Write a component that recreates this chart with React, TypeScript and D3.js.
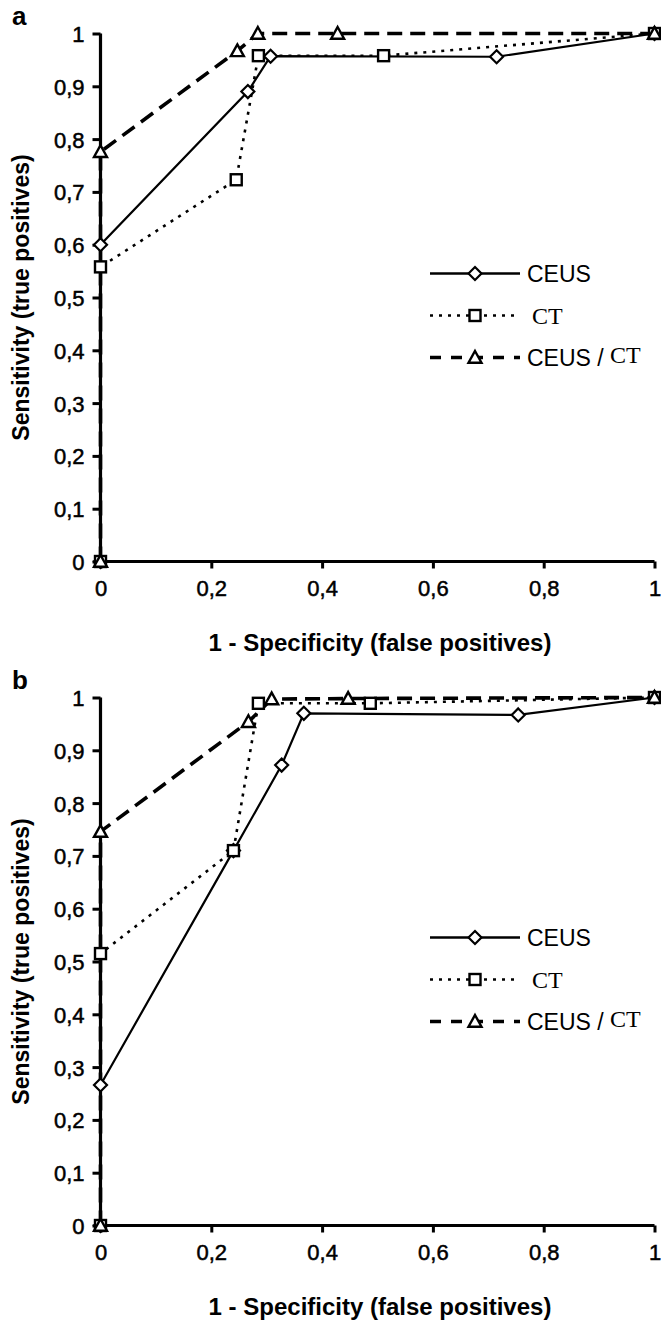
import { useEffect, useRef } from "react";
import * as d3 from "d3";

// ROC points, [1 - specificity, sensitivity]
const ceusA = [[0, 0], [0, 0.6], [0.266, 0.89], [0.307, 0.957], [0.715, 0.956], [1, 1]];
const ctA = [[0, 0], [0, 0.558], [0.245, 0.723], [0.285, 0.958], [0.511, 0.958], [1, 1]];
const comboA = [[0, 0], [0, 0.776], [0.247, 0.967], [0.284, 1], [0.428, 1], [1, 1]];

const ceusB = [[0, 0], [0, 0.266], [0.24, 0.71], [0.327, 0.872], [0.367, 0.97], [0.754, 0.967], [1, 1]];
const ctB = [[0, 0], [0, 0.515], [0.24, 0.71], [0.285, 0.989], [0.487, 0.989], [1, 1]];
const comboB = [[0, 0], [0, 0.746], [0.267, 0.954], [0.309, 0.997], [0.447, 0.998], [1, 1]];

const xTicks = [0, 0.2, 0.4, 0.6, 0.8, 1];
const yTicks = [0, 0.1, 0.2, 0.3, 0.4, 0.5, 0.6, 0.7, 0.8, 0.9, 1];
const legendNames = ["CEUS", "CT", "CEUS / CT"];

const SANS = "'Liberation Sans', Arial, sans-serif";
const SERIF = "'Liberation Serif', 'Times New Roman', serif";

const fmt = (v) => String(+v.toFixed(1)).replace(".", ",");

// marker shapes, drawn as outlined white shapes
function marker(g, kind, x, y) {
  if (kind === "diamond") {
    const r = 6.5;
    g.append("path")
      .attr("d", `M${x},${y - r}L${x + r},${y}L${x},${y + r}L${x - r},${y}Z`)
      .attr("fill", "white").attr("stroke", "black").attr("stroke-width", 2.2);
  } else if (kind === "square") {
    const r = 5.5;
    g.append("rect")
      .attr("x", x - r).attr("y", y - r).attr("width", 2 * r).attr("height", 2 * r)
      .attr("fill", "white").attr("stroke", "black").attr("stroke-width", 2.4);
  } else {
    const r = 6.5;
    g.append("path")
      .attr("d", `M${x},${y - r}L${x + r},${y + r * 0.8}L${x - r},${y + r * 0.8}Z`)
      .attr("fill", "white").attr("stroke", "black").attr("stroke-width", 2.4);
  }
}

const styles = [
  { kind: "diamond", dash: null, width: 2.2 },
  { kind: "square", dash: "3,6", width: 2.6 },
  { kind: "triangle", dash: "15,8", width: 3.6 },
];

function drawPanel(svg, top, letter, series) {
  const x = d3.scaleLinear().domain([0, 1]).range([100.5, 654.5]);
  const y = d3.scaleLinear().domain([0, 1]).range([top + 528, top]);
  const g = svg.append("g");

  g.append("text").attr("x", 12).attr("y", top - 9)
    .attr("font-family", SANS).attr("font-weight", "bold").attr("font-size", 26)
    .text(letter);

  // axes
  const yAxis = g.append("g").attr("transform", "translate(100.5,0)")
    .call(d3.axisLeft(y).tickValues(yTicks).tickFormat(fmt).tickSize(8).tickPadding(8));
  const xAxis = g.append("g").attr("transform", `translate(0,${top + 528})`)
    .call(d3.axisBottom(x).tickValues(xTicks).tickFormat(fmt).tickSize(7).tickPadding(12));
  [xAxis, yAxis].forEach((a) => {
    a.select(".domain").attr("stroke", "black").attr("stroke-width", 3.2);
    a.selectAll(".tick line").attr("stroke", "black").attr("stroke-width", 3);
    a.selectAll(".tick text").attr("font-family", SANS).attr("font-size", 22)
      .attr("fill", "black").attr("stroke", "black").attr("stroke-width", 0.5);
  });
  yAxis.select(".domain").attr("d", `M0,${top}V${top + 528}`);
  xAxis.select(".domain").attr("d", "M100.5,0H654.5");
  yAxis.selectAll(".tick text").attr("dy", "0.36em");

  g.append("text")
    .attr("x", 380).attr("y", top + 617)
    .attr("text-anchor", "middle")
    .attr("font-family", SANS).attr("font-weight", "bold").attr("font-size", 24)
    .text("1 - Specificity (false positives)");
  g.append("text")
    .attr("transform", `translate(29,${top + 264}) rotate(-90)`)
    .attr("text-anchor", "middle")
    .attr("font-family", SANS).attr("font-weight", "bold").attr("font-size", 23)
    .text("Sensitivity (true positives)");

  const line = d3.line().x((d) => x(d[0])).y((d) => y(d[1]));
  series.forEach((s, i) => {
    g.append("path").attr("d", line(s)).attr("fill", "none")
      .attr("stroke", "black").attr("stroke-width", styles[i].width)
      .attr("stroke-dasharray", styles[i].dash);
  });
  series.forEach((s, i) => {
    s.forEach((d) => marker(g, styles[i].kind, x(d[0]), y(d[1])));
  });

  // legend
  const rows = [top + 240, top + 282, top + 324];
  legendNames.forEach((name, i) => {
    const ly = rows[i];
    g.append("line").attr("x1", 430).attr("x2", 520).attr("y1", ly).attr("y2", ly)
      .attr("stroke", "black").attr("stroke-width", i === 2 ? 3.4 : 2.4)
      .attr("stroke-dasharray", i === 0 ? null : i === 1 ? "3,6" : "11,10");
    marker(g, styles[i].kind, 475, ly);
    const t = g.append("text").attr("x", i === 1 ? 532 : 527).attr("y", ly + 8)
      .attr("font-size", 23).attr("fill", "black");
    if (name === "CT") {
      t.attr("font-family", SERIF).attr("font-size", 24).text("CT");
    } else if (name === "CEUS") {
      t.attr("font-family", SANS).text("CEUS");
    } else {
      t.append("tspan").attr("font-family", SANS).text("CEUS / ");
      t.append("tspan").attr("font-family", SERIF).attr("font-size", 24).attr("dy", -3).text("CT");
    }
  });
}

export default function App() {
  const ref = useRef(null);
  useEffect(() => {
    const svg = d3.select(ref.current);
    svg.selectAll("*").remove();
    drawPanel(svg, 33.5, "a", [ceusA, ctA, comboA]);
    drawPanel(svg, 697.5, "b", [ceusB, ctB, comboB]);
  }, []);
  return (
    <svg
      ref={ref}
      width={661}
      height={1320}
      style={{ position: "absolute", left: 0, top: 0, background: "white" }}
    />
  );
}
